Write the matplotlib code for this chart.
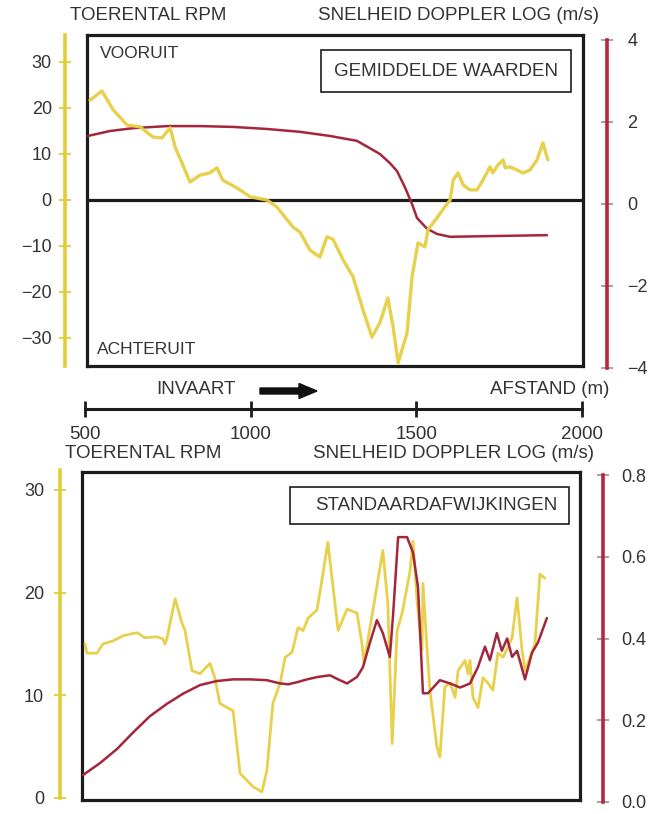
import matplotlib
matplotlib.use("Agg")
import matplotlib.pyplot as plt
from matplotlib.patches import Rectangle, FancyArrow

plt.rcParams["font.family"] = ["Liberation Sans", "DejaVu Sans"]

# ---------------------------------------------------------------- data
# Mean values (GEMIDDELDE WAARDEN) along the approach, distance in metres
top_rpm_dist = [515, 551, 585, 627, 666, 705, 732, 757, 772, 793, 817, 847, 877,
                898, 916, 959, 998, 1049, 1079, 1128, 1149, 1179, 1209, 1230,
                1248, 1279, 1309, 1339, 1366, 1390, 1414, 1430, 1445, 1472, 1487,
                1505, 1526, 1535, 1562, 1586, 1602, 1611, 1626, 1641, 1662, 1683,
                1701, 1722, 1731, 1746, 1762, 1768, 1783, 1804, 1822, 1843, 1864,
                1882, 1897]
top_rpm = [21.7, 23.7, 19.6, 16.3, 15.9, 13.7, 13.5, 15.7, 11.5, 8.0, 3.9, 5.4, 5.9,
           7.0, 4.3, 2.6, 0.7, 0.0, -1.5, -5.9, -7.0, -10.9, -12.4, -8.0,
           -8.5, -13.0, -16.7, -23.9, -29.8, -26.7, -21.3, -27.6, -35.4, -28.9, -16.7,
           -9.3, -10.2, -6.5, -3.9, -1.5, 0.0, 4.3, 5.9, 3.3, 2.2, 2.2,
           4.3, 7.2, 5.9, 7.6, 8.7, 7.0, 7.2, 6.5, 5.9, 6.5, 8.7,
           12.4, 8.7]

top_speed_dist = [509, 575, 645, 747, 847, 947, 1049, 1149, 1239, 1321, 1390, 1420,
                  1442, 1466, 1487, 1502, 1532, 1562, 1602, 1743, 1894]
top_speed = [1.66, 1.78, 1.85, 1.90, 1.90, 1.88, 1.83, 1.76, 1.66, 1.54, 1.22, 1.00,
             0.80, 0.40, 0.00, -0.34, -0.60, -0.73, -0.80, -0.78, -0.76]

# Standard deviations (STANDAARDAFWIJKINGEN)
sd_rpm_dist = [500, 506, 536, 554, 585, 615, 657, 681, 717, 735, 741, 747, 772, 793,
               802, 823, 847, 877, 892, 907, 929, 947, 968, 1007, 1034, 1049, 1067,
               1089, 1104, 1125, 1143, 1158, 1173, 1200, 1215, 1233, 1264, 1291, 1321,
               1336, 1342, 1399, 1414, 1427, 1442, 1457, 1481, 1490, 1502, 1517, 1520,
               1532, 1541, 1562, 1571, 1586, 1602, 1617, 1626, 1647, 1656, 1662, 1671,
               1686, 1701, 1716, 1731, 1746, 1762, 1789, 1804, 1819, 1828, 1843, 1858,
               1873, 1888]
sd_rpm = [15.0, 14.1, 14.1, 15.0, 15.3, 15.8, 16.1, 15.6, 15.7, 15.5, 15.0, 15.5, 19.4, 17.0,
          16.3, 12.4, 12.1, 13.1, 11.7, 9.2, 8.8, 8.5, 2.4, 1.1, 0.6, 2.7, 9.2,
          11.2, 13.7, 14.2, 16.6, 16.3, 17.5, 18.3, 21.2, 24.9, 16.3, 18.4, 18.0,
          15.0, 13.1, 24.1, 18.9, 5.3, 16.3, 18.0, 22.1, 25.0, 19.2, 14.4, 20.9,
          14.7, 10.5, 5.0, 4.0, 10.8, 11.2, 9.8, 12.4, 13.4, 12.1, 13.4, 9.8,
          8.8, 11.7, 11.2, 10.5, 14.1, 13.7, 15.6, 19.5, 14.4, 12.4, 13.7, 15.0,
          21.8, 21.4]

sd_speed_dist = [494, 545, 597, 645, 696, 747, 796, 847, 898, 947, 998, 1049, 1089,
                 1113, 1140, 1170, 1203, 1239, 1264, 1291, 1321, 1339, 1360, 1381, 1399,
                 1420, 1430, 1445, 1472, 1490, 1505, 1520, 1535, 1571, 1602, 1632, 1662,
                 1686, 1707, 1722, 1743, 1758, 1774, 1789, 1804, 1828, 1849, 1867, 1894]
sd_speed = [0.066, 0.095, 0.13, 0.17, 0.21, 0.24, 0.265, 0.286, 0.296, 0.30, 0.30, 0.298, 0.29,
            0.288, 0.293, 0.30, 0.306, 0.31, 0.30, 0.29, 0.306, 0.33, 0.39, 0.445, 0.413,
            0.355, 0.46, 0.648, 0.648, 0.61, 0.526, 0.266, 0.266, 0.298, 0.29, 0.28, 0.29,
            0.33, 0.38, 0.347, 0.413, 0.37, 0.40, 0.355, 0.37, 0.30, 0.365, 0.39, 0.45]

rpm_ticks_top = [30, 20, 10, 0, -10, -20, -30]
speed_ticks_top = [4, 2, 0, -2, -4]
rpm_ticks_sd = [0, 10, 20, 30]
speed_ticks_sd = [0.0, 0.2, 0.4, 0.6, 0.8]
dist_ticks = [500, 1000, 1500, 2000]

# ---------------------------------------------------------------- style
W, H = 661, 814
YELLOW = "#e6cf42"
YELLOW_AX = "#e2cc3a"
RED = "#a3263c"
RED_AX = "#bb2440"
TEXT = "#333333"
FRAME = "#1c1c1c"
GREY_TICK = "#9c9c9c"

fig = plt.figure(figsize=(W / 100, H / 100), dpi=100)
fig.patch.set_facecolor("white")


def box(x0, y0, x1, y1):
    """Pixel box (from top-left) -> figure fraction rectangle."""
    return [x0 / W, 1 - y1 / H, (x1 - x0) / W, (y1 - y0) / H]


def metres(px):
    return 500 + (px - 85) * 1500 / 497


def ftext(x, y, s, size=13.5, ha="left", va="center", **kw):
    fig.text(x / W, 1 - y / H, s, fontsize=size, ha=ha, va=va, color=TEXT, **kw)


def blank(ax):
    ax.set_xticks([])
    ax.set_yticks([])
    for sp in ax.spines.values():
        sp.set_visible(False)
    ax.patch.set_visible(False)


def frame_axes(x0, y0, x1, y1):
    ax = fig.add_axes(box(x0, y0, x1, y1))
    ax.set_xticks([])
    ax.set_yticks([])
    ax.set_xlim(metres(x0), metres(x1))
    for sp in ax.spines.values():
        sp.set_color(FRAME)
        sp.set_linewidth(2.3)
    return ax


def data_axes(x0, y0, x1, y1, ylim):
    ax = fig.add_axes(box(x0, y0, x1, y1))
    blank(ax)
    ax.set_xlim(metres(x0), metres(x1))
    ax.set_ylim(ylim)
    return ax


def scale_axes(x, y0, y1, ylim, ticks, color, tick_color, side, pad):
    ax = fig.add_axes(box(x, y0, x + 1, y1))
    blank(ax)
    ax.set_ylim(ylim)
    sp = ax.spines[side]
    sp.set_visible(True)
    sp.set_color(color)
    sp.set_linewidth(2.6)
    if side == "left":
        ax.yaxis.set_ticks_position("left")
    else:
        ax.yaxis.set_ticks_position("right")
    ax.set_yticks(ticks)
    ax.tick_params(axis="y", direction="inout", length=9, width=1.3,
                   color=tick_color, labelsize=13, labelcolor=TEXT, pad=pad)
    return ax


# ---------------------------------------------------------------- top panel: means
top_frame = frame_axes(87, 35, 583, 366)
rpm_lim_top = (-(366 - 200) / 4.6, (200 - 35) / 4.6)
top_frame.set_ylim(rpm_lim_top)
top_frame.axhline(0, color=FRAME, lw=2.3, zorder=1)

top_speed_ax = data_axes(87, 40, 583, 368, (-4, 4))
top_speed_ax.plot(top_speed_dist, top_speed, color=RED, lw=1.8,
                  solid_capstyle="round", solid_joinstyle="round", zorder=2)

top_rpm_ax = data_axes(87, 35, 583, 366, rpm_lim_top)
top_rpm_ax.plot(top_rpm_dist, top_rpm, color=YELLOW, lw=2.4, alpha=0.95,
                solid_capstyle="round", solid_joinstyle="round", zorder=3)

scale_axes(65, 35, 366, rpm_lim_top, rpm_ticks_top, YELLOW_AX, YELLOW_AX, "left", 5)
scale_axes(606, 40, 368, (-4, 4), speed_ticks_top, RED_AX, GREY_TICK, "right", 10)

ftext(70, 16, "TOERENTAL RPM")
ftext(318, 16, "SNELHEID DOPPLER LOG (m/s)")
ftext(100, 54, "VOORUIT", size=12.5)
ftext(97, 349, "ACHTERUIT", size=12.5)

fig.add_artist(Rectangle((321 / 100, (H - 92) / 100), 250 / 100, 42 / 100,
                         transform=fig.dpi_scale_trans, fill=False,
                         edgecolor=FRAME, lw=1.2))
ftext(446, 72, "GEMIDDELDE WAARDEN", ha="center")

# ---------------------------------------------------------------- distance scale
dist_ax = fig.add_axes(box(85, 408, 582, 409))
blank(dist_ax)
dist_ax.set_xlim(500, 2000)
dist_ax.spines["bottom"].set_visible(True)
dist_ax.spines["bottom"].set_color(FRAME)
dist_ax.spines["bottom"].set_linewidth(2.2)
dist_ax.set_xticks(dist_ticks)
dist_ax.tick_params(axis="x", direction="inout", length=12, width=2.0,
                    color=FRAME, labelsize=13.5, labelcolor=TEXT, pad=6)

ftext(196, 389, "INVAART", ha="center")
fig.add_artist(FancyArrow(2.60, (H - 391) / 100, 0.57, 0, width=0.06,
                          head_width=0.15, head_length=0.18,
                          length_includes_head=True, color="#111111",
                          transform=fig.dpi_scale_trans))
ftext(609, 390, "AFSTAND (m)", ha="right")

# ---------------------------------------------------------------- bottom panel: standard deviations
sd_frame = frame_axes(82, 472, 580, 800)

rpm_lim_sd = (0, (798 - 470) / 10.27)
sd_rpm_ax = data_axes(82, 470, 580, 798, rpm_lim_sd)
sd_rpm_ax.plot(sd_rpm_dist, sd_rpm, color=YELLOW, lw=2.0, alpha=0.95,
               solid_capstyle="round", solid_joinstyle="round", zorder=2)

sd_speed_ax = data_axes(82, 475, 580, 802, (0, 0.8))
sd_speed_ax.plot(sd_speed_dist, sd_speed, color=RED, lw=1.8,
                 solid_capstyle="round", solid_joinstyle="round", zorder=3)

scale_axes(60, 470, 798, rpm_lim_sd, rpm_ticks_sd, YELLOW_AX, YELLOW_AX, "left", 7)
scale_axes(602, 475, 802, (0, 0.8), speed_ticks_sd, RED_AX, GREY_TICK, "right", 9)

ftext(65, 454, "TOERENTAL RPM")
ftext(313, 454, "SNELHEID DOPPLER LOG (m/s)")

fig.add_artist(Rectangle((290 / 100, (H - 524) / 100), 279 / 100, 37 / 100,
                         transform=fig.dpi_scale_trans, fill=False,
                         edgecolor=FRAME, lw=1.2))
ftext(436, 506, "STANDAARDAFWIJKINGEN", ha="center")

fig.savefig("out.png", dpi=100, facecolor="white")
